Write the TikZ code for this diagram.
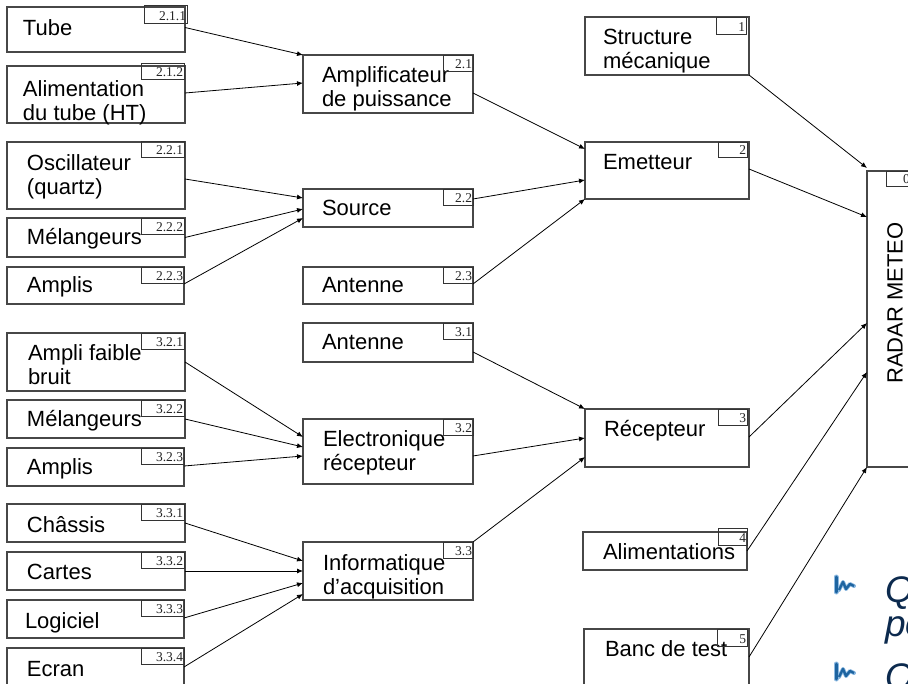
\documentclass[tikz,border=0pt]{standalone}
\usepackage{fontspec}
\setmainfont{Liberation Sans}
\newfontfamily\tagfont{Liberation Serif}
\usetikzlibrary{arrows.meta}
\definecolor{qblue}{RGB}{12,42,78}
\definecolor{bulblue}{RGB}{30,100,160}
\definecolor{bulhalo}{RGB}{140,185,225}
\newcommand\twol[2]{\begin{tabular}[t]{@{}l@{}}#1\\#2\end{tabular}}
\tikzset{
  box/.style={draw=black!72,line width=1.1pt,rectangle,inner sep=0pt,outer sep=0pt,fill=white},
  lbl/.style={inner sep=0pt,outer sep=0pt,font=\fontsize{22}{24}\selectfont,text=black},
  tagbox/.style={draw=black!80,line width=0.8pt,rectangle,inner sep=0pt,outer sep=0pt},
  tagtxt/.style={inner sep=0pt,outer sep=0pt,font=\tagfont\fontsize{13.5}{14}\selectfont,text=black!85},
  arr/.style={draw=black,line width=0.8pt,-{Latex[length=6pt,width=5pt]}},
  qtxt/.style={inner sep=0pt,outer sep=0pt,font=\itshape\fontsize{37}{40}\selectfont,text=qblue},
}
\newcommand\bx[8]{%
  \node[box,minimum width=#4pt,minimum height=#5pt,anchor=north west] (#1) at (#2,#3) {};
  \node[lbl,anchor=base west] (#1-t) at (#6,#7) {#8};}
\newcommand\tg[6]{%
  \node[tagbox,minimum width=#4pt,minimum height=#5pt,anchor=north west] (#1-g) at (#2,#3) {};
  \node[tagtxt,anchor=base east] (#1-n) at ([xshift=-1pt,yshift=2.5pt]#1-g.south east) {#6};}
\begin{document}
\begin{tikzpicture}[x=1pt,y=-1pt]
\useasboundingbox (0,0) rectangle (908,684);
\clip (0,0) rectangle (908,684);
\fill[white] (0,0) rectangle (908,684);
% left column
\bx{tube}{7}{7}{178}{45}{23}{36}{Tube}
\bx{alim}{7}{66}{178}{57}{23}{97}{\twol{Alimentation}{du tube (HT)}}
\bx{osc}{7}{142}{178}{67}{27}{171}{\twol{Oscillateur}{(quartz)}}
\bx{melA}{7}{218}{178}{39}{27}{245}{Mélangeurs}
\bx{ampA}{7}{267}{177}{37}{27}{293}{Amplis}
\bx{afb}{7}{333}{178}{58}{28}{361}{\twol{Ampli faible}{bruit}}
\bx{melB}{7}{400}{178}{38}{27}{427}{Mélangeurs}
\bx{ampB}{7}{448}{177}{38}{27}{475}{Amplis}
\bx{chas}{7}{504}{178}{38}{27}{532}{Châssis}
\bx{cart}{7}{552}{178}{38}{27}{579}{Cartes}
\bx{logi}{7}{600}{177}{38}{25}{628}{Logiciel}
\bx{ecran}{7}{648}{177}{38}{27}{676}{Ecran}
% middle column
\bx{ampli}{303}{55}{170}{58}{322}{83}{\twol{Amplificateur}{de puissance}}
\bx{source}{303}{189}{170}{38}{322}{216}{Source}
\bx{antA}{303}{267}{170}{37}{322}{293}{Antenne}
\bx{antB}{303}{323}{170}{39}{322}{350}{Antenne}
\bx{elec}{303}{419}{170}{65}{323}{447}{\twol{Electronique}{récepteur}}
\bx{info}{303}{542}{170}{58}{323}{570}{\twol{Informatique}{d’acquisition}}
% right column
\bx{struct}{585}{17}{164}{58}{603}{45}{\twol{Structure}{mécanique}}
\bx{emet}{585}{142}{164}{57}{603}{170}{Emetteur}
\bx{recep}{585}{409}{164}{58}{604}{437}{Récepteur}
\bx{alims}{583}{532}{164}{38}{603}{559}{Alimentations}
\bx{banc}{584}{629}{165}{56}{605}{656}{Banc de test}
% radar
\node[box,minimum width=80pt,minimum height=296pt,anchor=north west] (radar) at (867,171) {};
\node[lbl,rotate=90] (radar-t) at (895,303) {RADAR METEO};
\node[tagbox,minimum width=34pt,minimum height=15pt,anchor=north west] (radar-g) at (886,171) {};
\node[tagtxt,anchor=base west] (radar-n) at (903,184) {0};
% tags
\tg{tube}{144}{5}{43}{18}{2.1.1}
\tg{alim}{141}{63}{43}{16}{2.1.2}
\tg{osc}{141}{141}{43}{16}{2.2.1}
\tg{melA}{141}{218}{43}{16}{2.2.2}
\tg{ampA}{141}{267}{43}{16}{2.2.3}
\tg{afb}{141}{333}{43}{16}{3.2.1}
\tg{melB}{141}{400}{43}{16}{3.2.2}
\tg{ampB}{141}{448}{43}{16}{3.2.3}
\tg{chas}{141}{504}{43}{16}{3.3.1}
\tg{cart}{141}{552}{43}{16}{3.3.2}
\tg{logi}{141}{600}{43}{16}{3.3.3}
\tg{ecran}{141}{648}{43}{16}{3.3.4}
\tg{ampli}{443}{55}{30}{16}{2.1}
\tg{source}{443}{189}{30}{16}{2.2}
\tg{antA}{443}{267}{30}{16}{2.3}
\tg{antB}{443}{323}{30}{16}{3.1}
\tg{elec}{443}{419}{30}{16}{3.2}
\tg{info}{443}{542}{30}{16}{3.3}
\tg{struct}{716}{17}{30}{17}{1}
\tg{emet}{718}{142}{29}{15}{2}
\tg{recep}{718}{409}{29}{16}{3}
\tg{alims}{718}{528}{29}{17}{4}
\tg{banc}{717}{629}{30}{17}{5}
% arrows to Amplificateur
\draw[arr] ([yshift=2pt]tube.east) -- (ampli.north west);
\draw[arr] ([yshift=1.5pt]alim.east) -- ([yshift=-28pt]ampli.north west);
% to Source
\draw[arr] ([yshift=-3.5pt]osc.east) -- ([yshift=-9pt]source.north west);
\draw[arr] (melA.east) -- ([yshift=-20pt]source.north west);
\draw[arr] ([yshift=1.5pt]ampA.east) -- ([yshift=-29pt]source.north west);
% to Emetteur
\draw[arr] ([yshift=-9pt]ampli.east) -- ([yshift=-7pt]emet.north west);
\draw[arr] ([yshift=9pt]source.east) -- ([yshift=-38pt]emet.north west);
\draw[arr] ([yshift=1.5pt]antA.east) -- (emet.south west);
% to Electronique
\draw[arr] (afb.east) -- ([yshift=-18pt]elec.north west);
\draw[arr] (melB.east) -- ([yshift=-28pt]elec.north west);
\draw[arr] ([yshift=1pt]ampB.east) -- ([yshift=-37pt]elec.north west);
% to Informatique
\draw[arr] (chas.east) -- ([yshift=-19pt]info.north west);
\draw[arr] (cart.east) -- ([yshift=-29pt]info.north west);
\draw[arr] ([yshift=1pt]logi.east) -- ([yshift=-41pt]info.north west);
\draw[arr] (ecran.east) -- ([yshift=-52pt]info.north west);
% to Recepteur
\draw[arr] ([yshift=-9.5pt]antB.east) -- (recep.north west);
\draw[arr] ([yshift=-4.5pt]elec.east) -- ([yshift=-29pt]recep.north west);
\draw[arr] (info.north east) -- ([yshift=-48pt]recep.north west);
% to Radar
\draw[arr] (struct.south east) -- ([yshift=3pt]radar.north west);
\draw[arr] ([yshift=1.5pt]emet.east) -- ([yshift=-46pt]radar.north west);
\draw[arr] ([yshift=1pt]recep.east) -- ([yshift=-152pt]radar.north west);
\draw[arr] (alims.east) -- ([yshift=-201pt]radar.north west);
\draw[arr] (banc.east) -- (radar.south west);
% overlapping slide text
\foreach \yy in {573,660}{
  \draw[bulhalo,line width=5pt,line cap=round] (836,\yy+4) -- (836,\yy+19);
  \draw[bulhalo,line width=4pt,line join=round,line cap=round] (839,\yy+17) -- (843,\yy+9) -- (846,\yy+16) -- (850,\yy+11) -- (854,\yy+13);
  \draw[bulblue,line width=3pt,line cap=round] (836,\yy+4) -- (836,\yy+19);
  \draw[bulblue,line width=2.4pt,line join=round] (839,\yy+17) -- (843,\yy+9) -- (846,\yy+16) -- (850,\yy+11) -- (854,\yy+13);
}
\node[qtxt,anchor=base west] (q1) at (885,602) {Q};
\node[qtxt,anchor=base west] (po) at (885,636) {po};
\node[qtxt,anchor=base west] (q2) at (885,689) {Q};
\end{tikzpicture}
\end{document}
